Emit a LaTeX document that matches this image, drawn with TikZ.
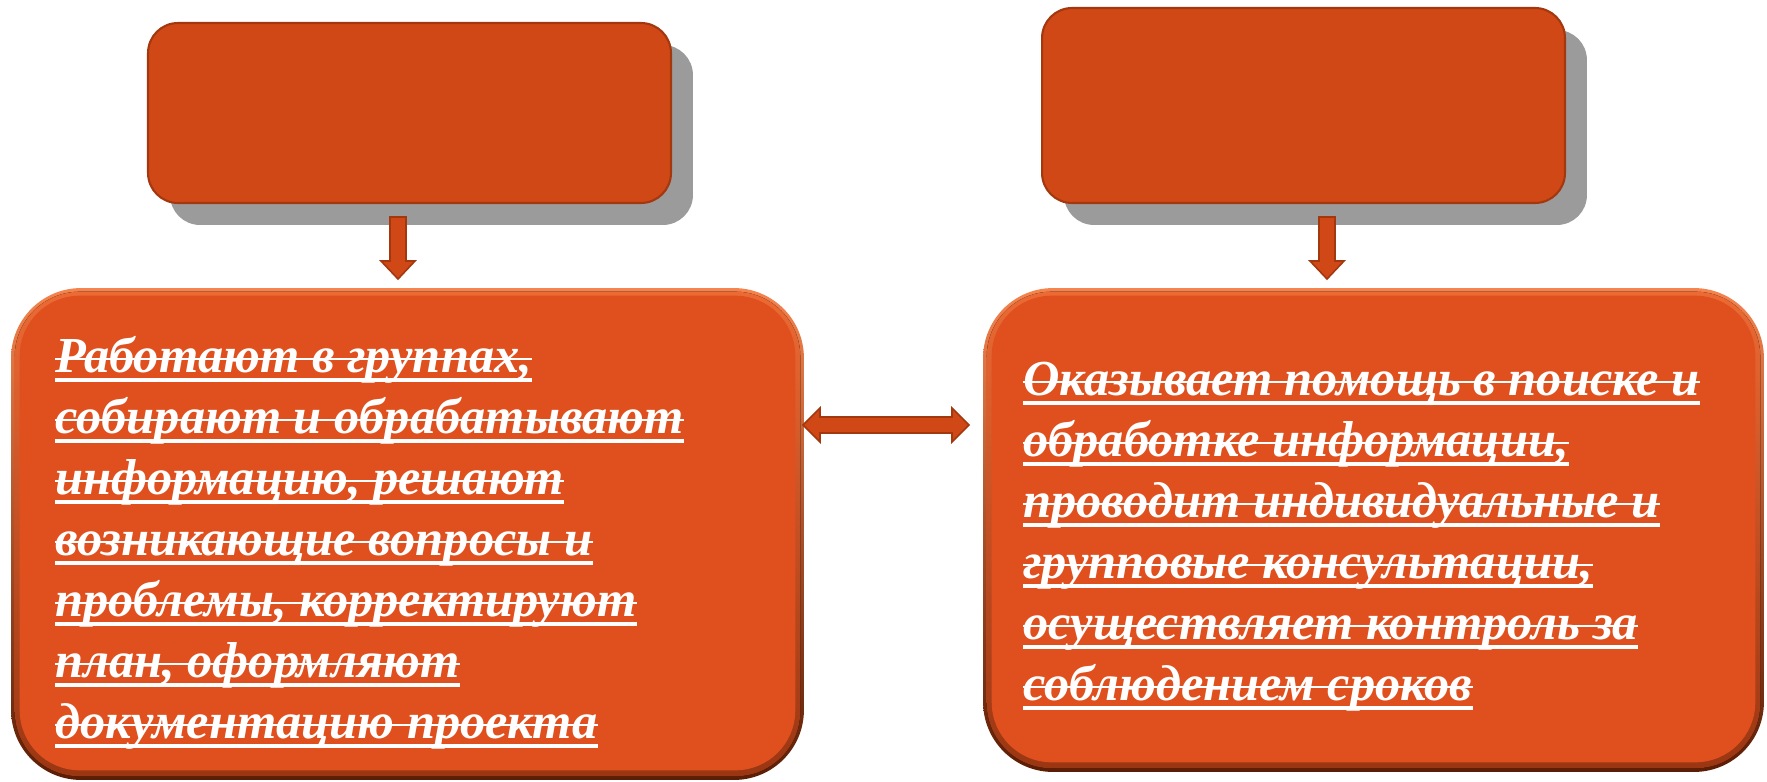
\documentclass[tikz,border=0pt]{standalone}
\usepackage{fontspec}
\setmainfont{Liberation Serif}
\usepackage{tikz}
\usetikzlibrary{positioning}
\usetikzlibrary{shadows}
\definecolor{brick}{HTML}{D14817}
\definecolor{brickline}{HTML}{A3380F}
\definecolor{rust}{HTML}{E0501E}
\definecolor{bevtop}{HTML}{F5844E}
\definecolor{bevbot}{HTML}{5C1D05}
\definecolor{bevmidtop}{HTML}{EC6A34}
\definecolor{bevmidbot}{HTML}{9A3612}
\definecolor{shade}{HTML}{9B9B9B}

\begin{document}
\begin{tikzpicture}[
  x=0.02cm, y=-0.02cm,
  headbox/.style={rounded corners=0.6cm, fill=brick, draw=brickline, line width=1.2pt,
    minimum width=10.46cm,
    drop shadow={shadow xshift=0.44cm, shadow yshift=-0.44cm, fill=shade, opacity=1}},
  taskbox/.style={rounded corners=1.4cm, top color=bevtop, bottom color=bevbot},
  taskline/.style={anchor=base west, inner sep=0pt, text=white,
    font=\fontsize{28.7}{34}\selectfont\bfseries\itshape},
  underrule/.style={draw=white, line width=0.08cm},
  strikerule/.style={draw=white, line width=0.05cm},
  blockarrow/.style={fill=brick, draw=brickline, line width=0.9pt, line join=miter}]
  \useasboundingbox (0,0) rectangle (1767,781);

  \node[headbox, minimum height=3.6cm] (pupils) at (409.5,113) {};
  \node[headbox, minimum height=3.9cm] (teacher) at (1303.5,105.5) {};

  \node[taskbox, minimum width=15.86cm, minimum height=9.84cm] (work) at (407.5,534) {};
  \node[taskbox, minimum width=15.62cm, minimum height=9.68cm] (help) at (1373.5,530) {};
  \foreach \n in {work,help}{
    \fill[rounded corners=1.3cm, top color=bevmidtop, bottom color=bevmidbot]
      ([shift={(4,-4)}]\n.south west) rectangle ([shift={(-4,4)}]\n.north east);
    \fill[rounded corners=1.2cm, rust]
      ([shift={(9,-10)}]\n.south west) rectangle ([shift={(-9,8)}]\n.north east);
  }

  % text lines, struck through and underlined
  \foreach \t [count=\i] in {{Работают в группах,},{собирают и обрабатывают},
      {информацию, решают},{возникающие вопросы и},{проблемы, корректируют},
      {план, оформляют},{документацию проекта}}{
    \node[taskline] (w\i) at (55,{372+(\i-1)*61}) {\t};
    \draw[underrule] ([yshift=-0.16cm]w\i.base west) -- ([yshift=-0.16cm]w\i.base east);
    \draw[strikerule] ([yshift=0.26cm]w\i.base west) -- ([yshift=0.26cm]w\i.base east);
  }
  \foreach \t [count=\i] in {{Оказывает помощь в поиске и},{обработке информации,},
      {проводит индивидуальные и},{групповые консультации,},
      {осуществляет контроль за},{соблюдением сроков}}{
    \node[taskline] (h\i) at (1023,{395+(\i-1)*61}) {\t};
    \draw[underrule] ([yshift=-0.16cm]h\i.base west) -- ([yshift=-0.16cm]h\i.base east);
    \draw[strikerule] ([yshift=0.26cm]h\i.base west) -- ([yshift=0.26cm]h\i.base east);
  }

  % arrows between the boxes
  \coordinate (downL) at (398,217);
  \coordinate (downR) at (1327,217);
  \foreach \a in {downL,downR}
    \draw[blockarrow] (\a) ++(-8,0) -- ++(16,0) -- ++(0,44) -- ++(9,0) -- ++(-17,18)
      -- ++(-17,-18) -- ++(9,0) -- cycle;
  \coordinate (tipL) at (803,425);
  \draw[blockarrow] (tipL) -- ++(17,-17) -- ++(0,9) -- ++(132,0) -- ++(0,-9) -- ++(17,17)
    -- ++(-17,17) -- ++(0,-9) -- ++(-132,0) -- ++(0,9) -- cycle;
\end{tikzpicture}
\end{document}
